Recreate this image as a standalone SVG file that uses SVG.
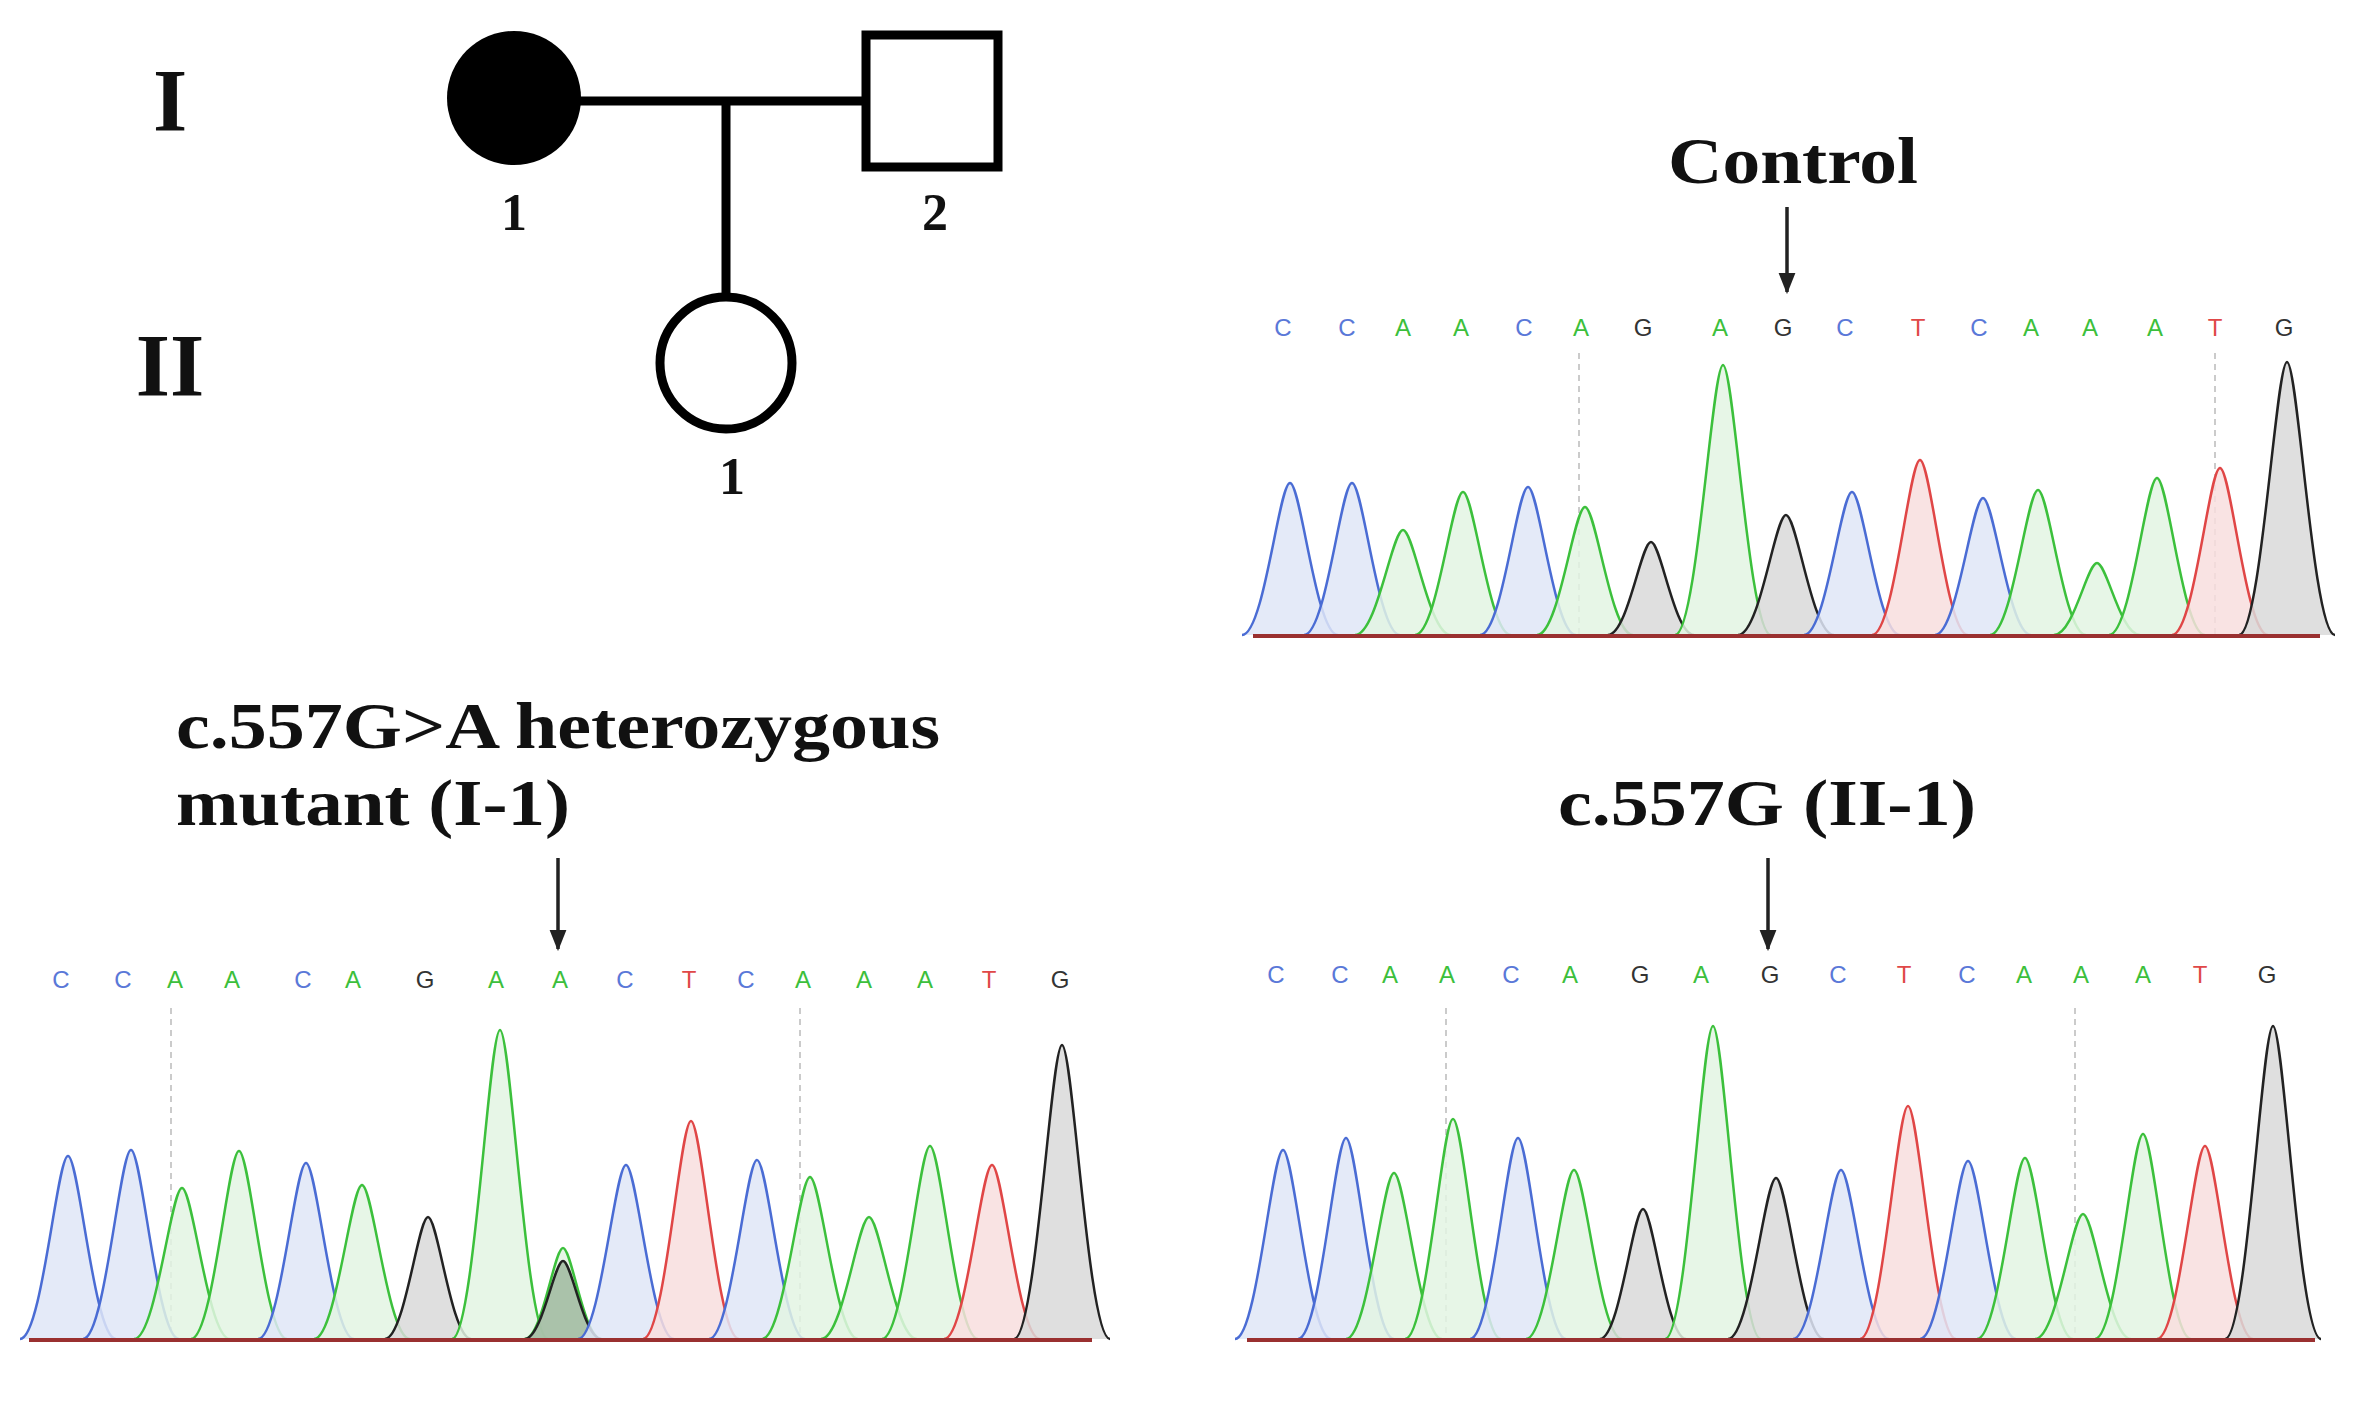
<svg xmlns="http://www.w3.org/2000/svg" xmlns:xlink="http://www.w3.org/1999/xlink" width="2360" height="1404" viewBox="0 0 2360 1404">
<style>
.t{font-family:"Liberation Serif",serif;font-weight:bold;fill:#111}
.s{font-family:"Liberation Sans",sans-serif;font-size:24px;text-anchor:middle}
.ln{stroke:#000;stroke-width:9;fill:none}
.b{fill:#dfe6f7;stroke:#4a6cd4}.g{fill:#e3f5e3;stroke:#3cc03c}.r{fill:#f8dede;stroke:#e04646}.k{fill:#d9d9d9;stroke:#222}
.b,.g,.r,.k{stroke-width:2.5;fill-opacity:.85}
.cb{fill:#5a78d8}.cg{fill:#3cbf3c}.cr{fill:#e04848}.ck{fill:#333}
.dash{stroke:#bbb;stroke-width:1.5;stroke-dasharray:6 5}
.base{stroke:#9a3030;stroke-width:4}
.arr{stroke:#222;stroke-width:3.5}
</style>
<defs>
<path id="pk" d="M-48,0 C-26,0 -11,-1 0,-1 C11,-1 26,0 48,0" vector-effect="non-scaling-stroke"/>
<marker id="ah" viewBox="0 0 10 10" refX="9" refY="5" markerWidth="6" markerHeight="6" orient="auto"><path d="M0,1 L10,5 L0,9 z" fill="#222"/></marker>
</defs>
<rect width="2360" height="1404" fill="#fff"/>

<g id="pedigree">
<text class="t" x="170" y="130" font-size="88" text-anchor="middle">I</text>
<text class="t" x="170" y="395" font-size="88" text-anchor="middle">II</text>
<g id="conn"><line class="ln" x1="575" y1="101" x2="864" y2="101"/><line class="ln" x1="726" y1="101" x2="726" y2="295"/></g>
<g id="I1"><circle cx="514" cy="98" r="67" fill="#000"/><text class="t" x="514" y="230" font-size="52" text-anchor="middle">1</text></g>
<g id="I2"><rect class="ln" x="866" y="35" width="132" height="132" stroke-width="8"/><text class="t" x="935" y="230" font-size="52" text-anchor="middle">2</text></g>
<g id="II1"><circle class="ln" cx="726" cy="363" r="66" stroke-width="6"/><text class="t" x="732" y="494" font-size="52" text-anchor="middle">1</text></g>
</g>

<g id="control">
<text class="t" x="1668" y="183" font-size="66" textLength="250" lengthAdjust="spacingAndGlyphs">Control</text>
<line class="arr" x1="1787" y1="207" x2="1787" y2="292" marker-end="url(#ah)"/>
<g class="s">
<text class="cb" x="1283" y="336">C</text><text class="cb" x="1347" y="336">C</text><text class="cg" x="1403" y="336">A</text><text class="cg" x="1461" y="336">A</text><text class="cb" x="1524" y="336">C</text><text class="cg" x="1581" y="336">A</text><text class="ck" x="1643" y="336">G</text><text class="cg" x="1720" y="336">A</text><text class="ck" x="1783" y="336">G</text><text class="cb" x="1845" y="336">C</text><text class="cr" x="1918" y="336">T</text><text class="cb" x="1979" y="336">C</text><text class="cg" x="2031" y="336">A</text><text class="cg" x="2090" y="336">A</text><text class="cg" x="2155" y="336">A</text><text class="cr" x="2215" y="336">T</text><text class="ck" x="2284" y="336">G</text>
</g>
<line class="dash" x1="1579" y1="353" x2="1579" y2="635"/><line class="dash" x1="2215" y1="353" x2="2215" y2="635"/>
<use href="#pk" class="b" transform="translate(1290,635) scale(1,152)"/>
<use href="#pk" class="b" transform="translate(1352,635) scale(1,152)"/>
<use href="#pk" class="g" transform="translate(1403,635) scale(1,105)"/>
<use href="#pk" class="g" transform="translate(1463,635) scale(1,143)"/>
<use href="#pk" class="b" transform="translate(1528,635) scale(1,148)"/>
<use href="#pk" class="g" transform="translate(1585,635) scale(1,128)"/>
<use href="#pk" class="k" transform="translate(1651,635) scale(0.9,93)"/>
<use href="#pk" class="g" transform="translate(1723,635) scale(1,270)"/>
<use href="#pk" class="k" transform="translate(1786,635) scale(1,120)"/>
<use href="#pk" class="b" transform="translate(1852,635) scale(1,143)"/>
<use href="#pk" class="r" transform="translate(1920,635) scale(1,175)"/>
<use href="#pk" class="b" transform="translate(1983,635) scale(1,137)"/>
<use href="#pk" class="g" transform="translate(2038,635) scale(1,145)"/>
<use href="#pk" class="g" transform="translate(2097,635) scale(0.9,72)"/>
<use href="#pk" class="g" transform="translate(2157,635) scale(1,157)"/>
<use href="#pk" class="r" transform="translate(2220,635) scale(1,167)"/>
<use href="#pk" class="k" transform="translate(2287,635) scale(1,273)"/>
<line class="base" x1="1253" y1="636" x2="2320" y2="636"/>
</g>

<g id="mutant">
<text class="t" x="176" y="748" font-size="66" textLength="764" lengthAdjust="spacingAndGlyphs">c.557G&gt;A heterozygous</text>
<text class="t" x="176" y="825" font-size="66" textLength="394" lengthAdjust="spacingAndGlyphs">mutant (I-1)</text>
<line class="arr" x1="558" y1="858" x2="558" y2="949" marker-end="url(#ah)"/>
<g class="s">
<text class="cb" x="61" y="988">C</text><text class="cb" x="123" y="988">C</text><text class="cg" x="175" y="988">A</text><text class="cg" x="232" y="988">A</text><text class="cb" x="303" y="988">C</text><text class="cg" x="353" y="988">A</text><text class="ck" x="425" y="988">G</text><text class="cg" x="496" y="988">A</text><text class="cg" x="560" y="988">A</text><text class="cb" x="625" y="988">C</text><text class="cr" x="689" y="988">T</text><text class="cb" x="746" y="988">C</text><text class="cg" x="803" y="988">A</text><text class="cg" x="864" y="988">A</text><text class="cg" x="925" y="988">A</text><text class="cr" x="989" y="988">T</text><text class="ck" x="1060" y="988">G</text>
</g>
<line class="dash" x1="171" y1="1008" x2="171" y2="1339"/><line class="dash" x1="800" y1="1008" x2="800" y2="1339"/>
<use href="#pk" class="b" transform="translate(68,1339) scale(1,183)"/>
<use href="#pk" class="b" transform="translate(131,1339) scale(1,189)"/>
<use href="#pk" class="g" transform="translate(182,1339) scale(1,151)"/>
<use href="#pk" class="g" transform="translate(239,1339) scale(1,188)"/>
<use href="#pk" class="b" transform="translate(306,1339) scale(1,176)"/>
<use href="#pk" class="g" transform="translate(362,1339) scale(1,154)"/>
<use href="#pk" class="k" transform="translate(428,1339) scale(0.9,122)"/>
<use href="#pk" class="g" transform="translate(500,1339) scale(1,309)"/>
<use href="#pk" class="g" transform="translate(563,1339) scale(0.8,91)"/>
<use href="#pk" class="k" transform="translate(563,1339) scale(0.8,78)" style="fill:#9fb89f"/>
<use href="#pk" class="b" transform="translate(626,1339) scale(1,174)"/>
<use href="#pk" class="r" transform="translate(691,1339) scale(1,218)"/>
<use href="#pk" class="b" transform="translate(757,1339) scale(1,179)"/>
<use href="#pk" class="g" transform="translate(810,1339) scale(1,162)"/>
<use href="#pk" class="g" transform="translate(869,1339) scale(1,122)"/>
<use href="#pk" class="g" transform="translate(930,1339) scale(1,193)"/>
<use href="#pk" class="r" transform="translate(992,1339) scale(1,174)"/>
<use href="#pk" class="k" transform="translate(1062,1339) scale(1,294)"/>
<line class="base" x1="29" y1="1340" x2="1092" y2="1340"/>
</g>

<g id="wildtype">
<text class="t" x="1558" y="825" font-size="66" textLength="418" lengthAdjust="spacingAndGlyphs">c.557G (II-1)</text>
<line class="arr" x1="1768" y1="858" x2="1768" y2="949" marker-end="url(#ah)"/>
<g class="s">
<text class="cb" x="1276" y="983">C</text><text class="cb" x="1340" y="983">C</text><text class="cg" x="1390" y="983">A</text><text class="cg" x="1447" y="983">A</text><text class="cb" x="1511" y="983">C</text><text class="cg" x="1570" y="983">A</text><text class="ck" x="1640" y="983">G</text><text class="cg" x="1701" y="983">A</text><text class="ck" x="1770" y="983">G</text><text class="cb" x="1838" y="983">C</text><text class="cr" x="1904" y="983">T</text><text class="cb" x="1967" y="983">C</text><text class="cg" x="2024" y="983">A</text><text class="cg" x="2081" y="983">A</text><text class="cg" x="2143" y="983">A</text><text class="cr" x="2200" y="983">T</text><text class="ck" x="2267" y="983">G</text>
</g>
<line class="dash" x1="1446" y1="1008" x2="1446" y2="1339"/><line class="dash" x1="2075" y1="1008" x2="2075" y2="1339"/>
<use href="#pk" class="b" transform="translate(1283,1339) scale(1,189)"/>
<use href="#pk" class="b" transform="translate(1346,1339) scale(1,201)"/>
<use href="#pk" class="g" transform="translate(1394,1339) scale(1,166)"/>
<use href="#pk" class="g" transform="translate(1453,1339) scale(1,220)"/>
<use href="#pk" class="b" transform="translate(1518,1339) scale(1,201)"/>
<use href="#pk" class="g" transform="translate(1574,1339) scale(1,169)"/>
<use href="#pk" class="k" transform="translate(1643,1339) scale(0.9,130)"/>
<use href="#pk" class="g" transform="translate(1713,1339) scale(1,313)"/>
<use href="#pk" class="k" transform="translate(1776,1339) scale(1,161)"/>
<use href="#pk" class="b" transform="translate(1841,1339) scale(1,169)"/>
<use href="#pk" class="r" transform="translate(1908,1339) scale(1,233)"/>
<use href="#pk" class="b" transform="translate(1968,1339) scale(1,178)"/>
<use href="#pk" class="g" transform="translate(2025,1339) scale(1,181)"/>
<use href="#pk" class="g" transform="translate(2083,1339) scale(1,125)"/>
<use href="#pk" class="g" transform="translate(2143,1339) scale(1,205)"/>
<use href="#pk" class="r" transform="translate(2205,1339) scale(1,193)"/>
<use href="#pk" class="k" transform="translate(2273,1339) scale(1,313)"/>
<line class="base" x1="1247" y1="1340" x2="2315" y2="1340"/>
</g>
</svg>
